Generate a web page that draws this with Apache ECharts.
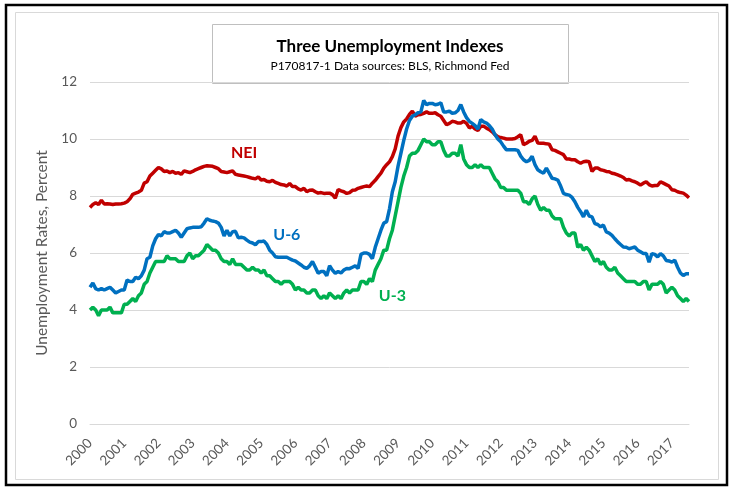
<!DOCTYPE html>
<html>
<head>
<meta charset="utf-8">
<script src="https://cdn.jsdelivr.net/npm/echarts@6/dist/echarts.min.js"></script>
<style>
html,body{margin:0;padding:0;background:#fff;}
#chart{width:732px;height:492px;}
</style>
</head>
<body>
<div id="chart"></div>
<script>
// Monthly, Jan 2000 – Jul 2017
var startYear = 2000;
var yearTicks = ['2000','2001','2002','2003','2004','2005','2006','2007','2008','2009','2010','2011','2012','2013','2014','2015','2016','2017'];
var yTicks = [0, 2, 4, 6, 8, 10, 12];

var nei = [
 7.6,7.7,7.76,7.7,7.85,7.72,7.73,7.72,7.7,7.72,7.72,7.73,
 7.75,7.8,7.9,8.06,8.1,8.14,8.2,8.45,8.5,8.7,8.8,8.9,
 9.0,8.95,8.86,8.88,8.82,8.86,8.8,8.82,8.76,8.88,8.85,8.82,
 8.86,8.92,8.96,9.0,9.04,9.06,9.05,9.04,9.0,8.96,8.86,8.84,
 8.82,8.85,8.88,8.76,8.74,8.72,8.7,8.68,8.65,8.62,8.6,8.67,
 8.56,8.58,8.52,8.5,8.55,8.48,8.44,8.4,8.39,8.35,8.44,8.33,
 8.33,8.25,8.21,8.27,8.15,8.2,8.21,8.15,8.1,8.12,8.09,8.1,
 8.1,8.05,7.92,8.23,8.18,8.15,8.09,8.12,8.2,8.21,8.27,8.3,
 8.33,8.35,8.33,8.45,8.55,8.68,8.8,8.98,9.1,9.2,9.38,9.65,
 10.1,10.4,10.6,10.7,10.86,10.98,10.8,10.85,10.86,10.9,10.95,10.9,
 10.9,10.92,10.85,10.8,10.65,10.5,10.55,10.62,10.6,10.56,10.56,10.62,
 10.55,10.39,10.45,10.35,10.3,10.45,10.45,10.38,10.33,10.25,10.15,10.08,
 10.05,10.03,10.0,10.0,10.0,10.02,10.08,10.15,9.8,9.85,9.92,9.95,
 10.1,9.86,9.85,9.85,9.83,9.82,9.62,9.6,9.55,9.5,9.45,9.3,
 9.3,9.27,9.27,9.2,9.15,9.2,9.22,9.2,8.86,8.98,8.98,8.92,
 8.9,8.86,8.85,8.8,8.78,8.74,8.7,8.65,8.56,8.58,8.53,8.5,
 8.45,8.39,8.45,8.5,8.4,8.35,8.37,8.37,8.5,8.45,8.4,8.35,
 8.22,8.2,8.15,8.12,8.1,8.03,7.94
];

var u6 = [
 4.8,4.95,4.75,4.7,4.75,4.7,4.75,4.8,4.7,4.6,4.65,4.7,
 4.7,5.05,5.0,5.0,5.15,5.1,5.2,5.4,5.8,5.85,6.25,6.5,
 6.65,6.6,6.75,6.7,6.7,6.75,6.8,6.7,6.55,6.7,6.85,6.88,
 6.9,6.9,6.9,6.92,7.05,7.2,7.15,7.12,7.1,7.05,6.9,6.6,
 6.8,6.6,6.75,6.76,6.53,6.55,6.53,6.45,6.38,6.35,6.29,6.4,
 6.4,6.42,6.3,6.1,6.0,5.87,5.85,5.85,5.85,5.85,5.8,5.75,
 5.72,5.65,5.58,5.5,5.46,5.55,5.7,5.5,5.29,5.35,5.35,5.2,
 5.55,5.4,5.29,5.35,5.3,5.4,5.46,5.45,5.5,5.55,5.46,5.95,
 6.0,6.0,5.95,5.8,6.2,6.5,6.8,7.05,7.1,7.55,8.15,8.5,
 9.05,9.5,9.95,10.35,10.65,10.8,10.85,10.92,10.95,11.35,11.2,11.25,
 11.25,11.2,11.22,11.27,10.95,10.95,10.98,10.9,10.92,11.0,11.21,10.95,
 10.75,10.62,10.55,10.47,10.35,10.68,10.6,10.56,10.47,10.35,10.15,10.0,
 9.9,9.75,9.62,9.62,9.62,9.62,9.6,9.4,9.27,9.2,9.25,9.39,
 9.1,8.92,8.85,8.8,8.98,8.8,8.62,8.6,8.56,8.35,8.09,8.05,
 8.03,7.95,7.8,7.6,7.45,7.27,7.5,7.3,7.27,7.03,7.0,6.92,
 6.98,6.74,6.7,6.62,6.5,6.39,6.3,6.21,6.2,6.15,6.18,6.21,
 6.1,6.04,5.98,5.98,5.68,5.98,5.95,5.86,5.98,5.9,5.74,5.72,
 5.68,5.75,5.5,5.3,5.21,5.27,5.27
];

var u3 = [
 4.0,4.1,4.0,3.8,4.0,4.0,4.0,4.1,3.9,3.9,3.9,3.9,
 4.2,4.2,4.3,4.4,4.3,4.5,4.6,4.9,5.0,5.3,5.5,5.7,
 5.7,5.7,5.7,5.9,5.8,5.8,5.8,5.7,5.7,5.7,5.9,6.0,
 5.8,5.9,5.9,6.0,6.1,6.3,6.2,6.1,6.1,6.0,5.8,5.7,
 5.7,5.6,5.8,5.6,5.6,5.6,5.5,5.4,5.4,5.5,5.4,5.4,
 5.3,5.4,5.2,5.2,5.1,5.0,5.0,4.9,5.0,5.0,5.0,4.9,
 4.7,4.8,4.7,4.7,4.6,4.6,4.7,4.7,4.5,4.4,4.5,4.4,
 4.6,4.5,4.4,4.5,4.4,4.6,4.7,4.6,4.7,4.7,4.7,5.0,
 5.0,4.9,5.1,5.0,5.4,5.6,5.8,6.1,6.1,6.5,6.8,7.3,
 7.8,8.3,8.7,9.0,9.4,9.5,9.5,9.6,9.8,10.0,9.9,9.9,
 9.8,9.8,9.9,9.9,9.6,9.4,9.4,9.5,9.5,9.4,9.8,9.3,
 9.1,9.0,9.0,9.1,9.0,9.1,9.0,9.0,9.0,8.8,8.6,8.5,
 8.3,8.3,8.2,8.2,8.2,8.2,8.2,8.1,7.8,7.8,7.7,7.9,
 8.0,7.7,7.5,7.6,7.5,7.5,7.3,7.2,7.2,7.2,6.9,6.7,
 6.6,6.7,6.7,6.2,6.3,6.1,6.2,6.1,5.9,5.7,5.8,5.6,
 5.7,5.5,5.4,5.4,5.5,5.3,5.2,5.1,5.0,5.0,5.0,5.0,
 4.9,4.9,5.0,5.0,4.7,4.9,4.9,4.9,5.0,4.9,4.6,4.7,
 4.8,4.7,4.5,4.4,4.3,4.4,4.3
];

var months = [];
for (var i = 0; i < u3.length; i++) {
  var y = startYear + Math.floor(i / 12);
  var m = (i % 12) + 1;
  months.push(y + '-' + (m < 10 ? '0' + m : m));
}

var FONT = 'Lato, "Open Sans", sans-serif';
var chart = echarts.init(document.getElementById('chart'));
var option = {
  animation: false,
  backgroundColor: '#ffffff',
  graphic: [
    { type: 'rect', shape: { x: 6, y: 5, width: 721, height: 480 }, style: { fill: 'none', stroke: '#000000', lineWidth: 2.5 }, z: -1 },
    { type: 'rect', shape: { x: 15.5, y: 12.5, width: 703, height: 467 }, style: { fill: 'none', stroke: '#D9D9D9', lineWidth: 1 }, z: -1 },
    { type: 'rect', shape: { x: 212.5, y: 24.5, width: 356, height: 59 }, style: { fill: '#ffffff', stroke: '#BFBFBF', lineWidth: 1 }, z: -1 }
  ],
  title: {
    text: 'Three Unemployment Indexes',
    subtext: 'P170817-1 Data sources: BLS, Richmond Fed',
    left: 390, top: 38, textAlign: 'center', itemGap: 5, padding: 0,
    textStyle: { fontFamily: FONT, fontSize: 17, fontWeight: 'bold', color: '#000000' },
    subtextStyle: { fontFamily: FONT, fontSize: 12, color: '#000000' }
  },
  grid: { left: 90, right: 43, top: 82, bottom: 68, containLabel: false },
  xAxis: {
    type: 'category',
    data: months,
    boundaryGap: false,
    axisLine: { lineStyle: { color: '#D9D9D9' } },
    axisTick: { show: false },
    splitLine: { show: false },
    axisLabel: {
      interval: function (index) { return index % 12 === 0; },
      formatter: function (v) { return yearTicks[yearTicks.indexOf(v.slice(0, 4))]; },
      rotate: 45, margin: 17,
      fontFamily: FONT, fontSize: 13.5, color: '#595959'
    }
  },
  yAxis: {
    type: 'value', min: yTicks[0], max: yTicks[yTicks.length - 1], interval: 2,
    name: 'Unemployment Rates, Percent', nameLocation: 'middle', nameGap: 34,
    nameTextStyle: { fontFamily: FONT, fontSize: 15.5, color: '#595959' },
    axisLine: { show: false }, axisTick: { show: false },
    splitLine: { lineStyle: { color: '#D9D9D9', width: 1 } },
    axisLabel: { margin: 13, fontFamily: FONT, fontSize: 13.5, color: '#595959' }
  },
  series: [
    {
      name: 'NEI', type: 'line', data: nei, symbol: 'none', smooth: false,
      lineStyle: { color: '#C00000', width: 3.5 }, itemStyle: { color: '#C00000' },
      markPoint: { symbol: 'circle', symbolSize: 0, silent: true,
        data: [{ coord: ['2004-07', 9.51] }],
        label: { show: true, position: 'inside', formatter: 'NEI', fontFamily: FONT, fontSize: 16, fontWeight: 'bold', color: '#C00000' } }
    },
    {
      name: 'U-6', type: 'line', data: u6, symbol: 'none', smooth: false,
      lineStyle: { color: '#0070C0', width: 3.5 }, itemStyle: { color: '#0070C0' },
      markPoint: { symbol: 'circle', symbolSize: 0, silent: true,
        data: [{ coord: ['2005-10', 6.63] }],
        label: { show: true, position: 'inside', formatter: 'U-6', fontFamily: FONT, fontSize: 16, fontWeight: 'bold', color: '#0070C0' } }
    },
    {
      name: 'U-3', type: 'line', data: u3, symbol: 'none', smooth: false,
      lineStyle: { color: '#00B050', width: 3.5 }, itemStyle: { color: '#00B050' },
      markPoint: { symbol: 'circle', symbolSize: 0, silent: true,
        data: [{ coord: ['2008-11', 4.51] }],
        label: { show: true, position: 'inside', formatter: 'U-3', fontFamily: FONT, fontSize: 16, fontWeight: 'bold', color: '#00B050' } }
    }
  ]
};
chart.setOption(option);
</script>
</body>
</html>
